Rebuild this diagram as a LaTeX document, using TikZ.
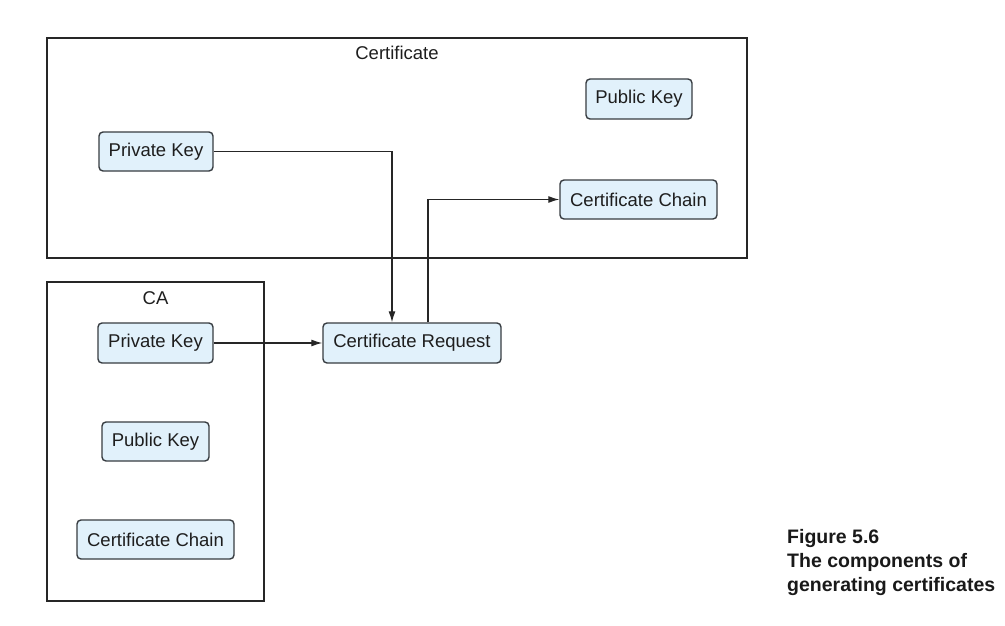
\documentclass[tikz,border=0pt]{standalone}
\usepackage{fontspec}
\setmainfont{Liberation Sans}
\usetikzlibrary{arrows.meta}
\definecolor{boxfill}{RGB}{225,241,251}
\definecolor{boxline}{RGB}{55,60,65}
\definecolor{txt}{RGB}{30,30,30}
\tikzset{
  keybox/.style={draw=boxline, line width=1.4pt, fill=boxfill, rounded corners=4pt,
    inner sep=0pt, text=txt, font=\fontsize{18.5}{20}\selectfont},
  groupbox/.style={draw=black!85, line width=1.3pt},
  grouptitle/.style={text=txt, font=\fontsize{18.5}{20}\selectfont, inner sep=0pt},
  link/.style={draw=black!85, line width=1.2pt, -{Latex[length=11pt,width=7pt]}},
  captext/.style={anchor=base west, inner sep=0pt, text=black!90, font=\fontsize{19.5}{24}\selectfont\bfseries}
}
\begin{document}
\begin{tikzpicture}[x=1pt,y=-1pt]
\useasboundingbox (0,0) rectangle (1005,626);
% group boxes
\node[groupbox, minimum width=700pt, minimum height=220pt, inner sep=0pt] (cert) at (397,148) {};
\node[grouptitle] (certtitle) at (397,53) {Certificate};
\node[groupbox, minimum width=217pt, minimum height=319pt, inner sep=0pt] (ca) at (155.5,441.5) {};
\node[grouptitle] (catitle) at (155.5,298) {CA};
% key nodes
\node[keybox, minimum width=114pt, minimum height=39pt] (pkc) at (156,151.5) {Private Key};
\node[keybox, minimum width=106pt, minimum height=40pt] (pubc) at (639,99) {Public Key};
\node[keybox, minimum width=157pt, minimum height=39pt] (chainc) at (638.5,199.5) {Certificate Chain};
\node[keybox, minimum width=115pt, minimum height=40pt] (pkca) at (155.5,343) {Private Key};
\node[keybox, minimum width=107pt, minimum height=39pt] (pubca) at (155.5,441.5) {Public Key};
\node[keybox, minimum width=157pt, minimum height=39pt] (chainca) at (155.5,539.5) {Certificate Chain};
\node[keybox, minimum width=178pt, minimum height=40pt] (req) at (412,343) {Certificate Request};
% connectors
\draw[link] (pkc.east) -| ([xshift=-20pt]req.north);
\draw[link] ([xshift=16pt]req.north) |- (chainc.west);
\draw[link] (pkca.east) -- (req.west);
% caption
\node[captext] (cap1) at (787,543) {Figure 5.6};
\node[captext] (cap2) at (787,567) {The components of};
\node[captext] (cap3) at (787,591) {generating certificates};
\end{tikzpicture}
\end{document}
